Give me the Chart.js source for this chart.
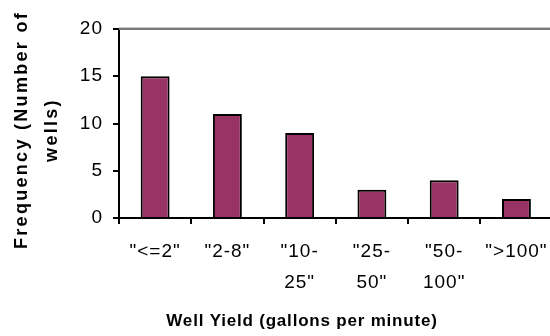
<!DOCTYPE html>
<html>
<head>
<meta charset="utf-8">
<script src="https://cdn.jsdelivr.net/npm/chart.js@4/dist/chart.umd.min.js"></script>
<style>
  html, body { margin: 0; padding: 0; background: #fff; overflow: hidden; }
  #wrap { width: 560px; height: 336px; }
</style>
</head>
<body>
<div id="wrap"><canvas id="c" width="560" height="336"></canvas></div>
<script>
// Well yield histogram data
const categories = [['"<=2"'], ['"2-8"'], ['"10-', '25"'], ['"25-', '50"'], ['"50-', '100"'], ['">100"']];
const frequencies = [15, 11, 9, 3, 4, 2];
const yTicks = [0, 5, 10, 15, 20];
const yTitle = ['Frequency (Number of', 'wells)'];
const xTitle = 'Well Yield (gallons per minute)';

const FONT = '"Liberation Sans", Arial, sans-serif';

// Slightly wider glyph spacing for all tick labels
const spacing = {
  id: 'spacing',
  beforeLayout(chart) { chart.ctx.letterSpacing = '1px'; },
  beforeDraw(chart) { chart.ctx.letterSpacing = '1px'; }
};

// Grey top edge of the plot area and the axis titles
const decorations = {
  id: 'decorations',
  afterDraw(chart) {
    const ctx = chart.ctx;
    const area = chart.chartArea;
    ctx.save();
    ctx.fillStyle = '#7a7a7a';
    ctx.fillRect(area.left, area.top - 1, chart.width - area.left, 2);
    ctx.fillStyle = '#c8c8c8';
    ctx.fillRect(area.left, area.top - 2, chart.width - area.left, 1);

    ctx.fillStyle = '#000';
    ctx.textAlign = 'center';
    ctx.textBaseline = 'alphabetic';
    ctx.font = 'bold 17px ' + FONT;
    ctx.letterSpacing = '0.8px';
    ctx.fillText(xTitle, 302, 326);

    ctx.font = 'bold 18px ' + FONT;
    ctx.letterSpacing = '2.3px';
    ctx.translate(0, 130);
    ctx.rotate(-Math.PI / 2);
    ctx.fillText(yTitle[0], 0, 27);
    ctx.fillText(yTitle[1], 0, 57);
    ctx.restore();
  }
};

new Chart(document.getElementById('c'), {
  type: 'bar',
  data: {
    labels: categories,
    datasets: [{
      data: frequencies,
      backgroundColor: '#993366',
      borderColor: '#000',
      borderWidth: 2,
      barPercentage: 0.4,
      categoryPercentage: 1.0
    }]
  },
  options: {
    responsive: false,
    animation: false,
    devicePixelRatio: 1,
    layout: { padding: { top: 29, right: 5, left: 0, bottom: 0 } },
    plugins: { legend: { display: false }, tooltip: { enabled: false } },
    scales: {
      x: {
        offset: true,
        grid: { offset: true, drawOnChartArea: false, drawTicks: true, tickLength: 6, color: '#000', lineWidth: 2 },
        border: { color: '#000', width: 2 },
        ticks: { color: '#000', font: { family: FONT, size: 19, lineHeight: 1.63 }, padding: 12, maxRotation: 0, autoSkip: false },
        afterFit(scale) { scale.height = 118; }
      },
      y: {
        min: 0, max: 20,
        afterBuildTicks(scale) { scale.ticks = yTicks.map(v => ({ value: v })); },
        grid: { drawOnChartArea: false, drawTicks: true, tickLength: 6, color: '#000', lineWidth: 2 },
        border: { color: '#000', width: 2 },
        ticks: { color: '#000', font: { family: FONT, size: 19 }, padding: 10 },
        afterFit(scale) { scale.width = 119; }
      }
    }
  },
  plugins: [spacing, decorations]
});
</script>
</body>
</html>
